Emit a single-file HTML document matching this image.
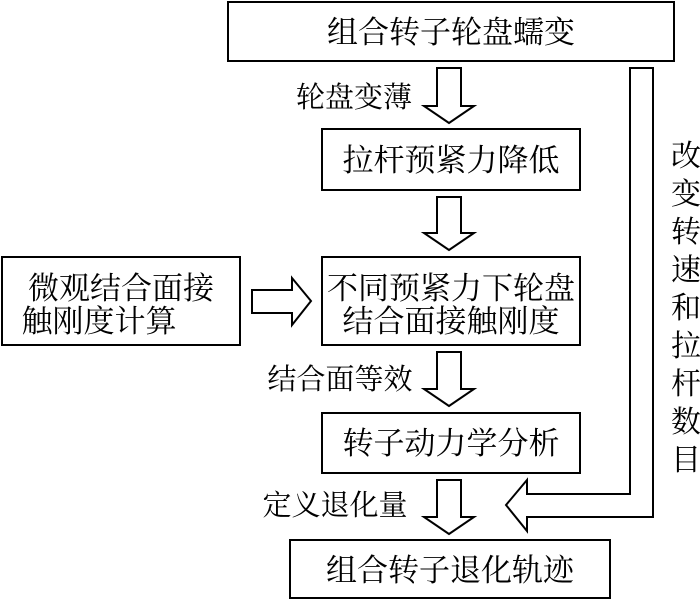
<!DOCTYPE html>
<html><head><meta charset="utf-8"><style>
body{margin:0;background:#fff;}
svg text{font-family:"Liberation Serif","Noto Serif CJK SC","Noto Sans CJK SC",serif;fill:#000;}
</style></head><body>
<svg width="700" height="602" viewBox="0 0 700 602" xmlns="http://www.w3.org/2000/svg">
<g fill="none" stroke="#000" stroke-width="2">
<rect x="228" y="2" width="446" height="59"/>
<rect x="322" y="129" width="258" height="61"/>
<rect x="2" y="257" width="238" height="88"/>
<rect x="322" y="257" width="258" height="88"/>
<rect x="322" y="413" width="258" height="60"/>
<rect x="290" y="540" width="320" height="58"/>
<polygon points="437,68 461,68 461,106 474,106 449,123 424,106 437,106"/>
<polygon points="437,197 461,197 461,233 474,233 449,250 424,233 437,233"/>
<polygon points="437,352 461,352 461,389 474,389 449,406 424,389 437,389"/>
<polygon points="437,480 461,480 461,517 474,517 449,534 424,517 437,517"/>
<polygon points="252,290 292,290 292,278 311,301 292,325 292,313 252,313"/>
<polygon points="630,68 653,68 653,517 527,517 527,531 506,505 527,480 527,494 630,494"/>
</g>
<g font-size="31" text-anchor="middle">
<text x="451" y="43">组合转子轮盘蠕变</text>
<text x="451" y="171">拉杆预紧力降低</text>
<text x="121" y="299">微观结合面接</text>
<text x="99" y="332">触刚度计算</text>
<text x="451" y="299">不同预紧力下轮盘</text>
<text x="451" y="332">结合面接触刚度</text>
<text x="451" y="454">转子动力学分析</text>
<text x="450" y="581">组合转子退化轨迹</text>
</g>
<g font-size="29" text-anchor="middle">
<text x="354" y="107">轮盘变薄</text>
<text x="340" y="389">结合面等效</text>
<text x="335" y="515">定义退化量</text>
</g>
<g font-size="30" text-anchor="middle">
<text x="686" y="166">改</text>
<text x="686" y="204">变</text>
<text x="686" y="242">转</text>
<text x="686" y="280">速</text>
<text x="686" y="318">和</text>
<text x="686" y="356">拉</text>
<text x="686" y="394">杆</text>
<text x="686" y="432">数</text>
<text x="686" y="470">目</text>
</g>
</svg>
</body></html>
